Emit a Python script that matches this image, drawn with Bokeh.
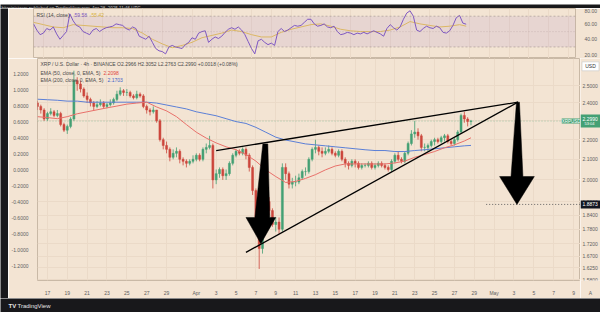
from bokeh.plotting import figure
from bokeh.layouts import column, row
from bokeh.models import (Range1d, LinearAxis, LinearScale, FixedTicker, NumeralTickFormatter,
                          Label, BoxAnnotation, Span)
from bokeh.core.properties import value
from bokeh.embed import file_html
from bokeh.resources import INLINE

# ---------------- data ----------------
# time axis: day number counted from 1 March (32 = 1 April, 62 = 1 May); 8-hour candles
DAY_INDEX = list(range(16, 60))
SESSIONS = [0.0, 1 / 3, 2 / 3]
CANDLE_T = [d + s for d in DAY_INDEX for s in SESSIONS]

FIRST_OPEN = 2.40
CLOSE = [2.38, 2.36, 2.31, 2.34, 2.35, 2.33, 2.34, 2.28, 2.25, 2.27, 2.31, 2.53,
         2.51, 2.48, 2.44, 2.42, 2.40, 2.38, 2.39, 2.40, 2.38, 2.39, 2.40, 2.42,
         2.45, 2.47, 2.46, 2.46, 2.44, 2.43, 2.45, 2.44, 2.38, 2.36, 2.35, 2.36,
         2.30, 2.20, 2.17, 2.15, 2.11, 2.13, 2.14, 2.10, 2.09, 2.08, 2.09, 2.10,
         2.12, 2.10, 2.15, 2.16, 2.17, 2.00, 2.03, 2.05, 2.02, 2.03, 2.08, 2.12,
         2.14, 2.13, 2.15, 2.12, 2.06, 1.95, 1.80, 1.70, 1.88, 1.90, 1.86, 1.80,
         1.81, 1.78, 2.06, 2.03, 1.98, 1.99, 1.99, 2.01, 2.04, 2.04, 2.10, 2.15,
         2.16, 2.14, 2.13, 2.14, 2.15, 2.13, 2.12, 2.14, 2.10, 2.08, 2.07, 2.09,
         2.08, 2.06, 2.07, 2.07, 2.08, 2.06, 2.07, 2.08, 2.07, 2.06, 2.05, 2.09,
         2.12, 2.10, 2.09, 2.13, 2.18, 2.23, 2.24, 2.22, 2.16, 2.16, 2.17, 2.19,
         2.20, 2.19, 2.21, 2.22, 2.19, 2.18, 2.20, 2.24, 2.33, 2.31, 2.2966, 2.2990]
HIGH = [2.41, 2.39, 2.37, 2.35, 2.37, 2.36, 2.36, 2.35, 2.29, 2.28, 2.32, 2.59,
        2.55, 2.53, 2.49, 2.46, 2.43, 2.41, 2.41, 2.42, 2.41, 2.40, 2.42, 2.43,
        2.47, 2.49, 2.48, 2.48, 2.47, 2.45, 2.47, 2.46, 2.45, 2.39, 2.37, 2.38,
        2.36, 2.31, 2.21, 2.19, 2.16, 2.15, 2.16, 2.15, 2.11, 2.10, 2.10, 2.12,
        2.13, 2.13, 2.16, 2.18, 2.22, 2.18, 2.05, 2.06, 2.06, 2.05, 2.09, 2.13,
        2.15, 2.15, 2.16, 2.16, 2.13, 2.07, 1.96, 1.82, 1.90, 1.94, 1.92, 1.87,
        1.83, 1.83, 2.08, 2.08, 2.04, 2.01, 2.02, 2.03, 2.05, 2.06, 2.11, 2.16,
        2.20, 2.17, 2.16, 2.16, 2.17, 2.16, 2.14, 2.15, 2.15, 2.11, 2.09, 2.10,
        2.10, 2.09, 2.08, 2.08, 2.09, 2.09, 2.08, 2.09, 2.09, 2.08, 2.07, 2.10,
        2.13, 2.14, 2.11, 2.14, 2.19, 2.25, 2.30, 2.26, 2.23, 2.18, 2.18, 2.20,
        2.21, 2.21, 2.22, 2.23, 2.23, 2.20, 2.21, 2.25, 2.34, 2.35, 2.32, 2.3052]
LOW = [2.36, 2.34, 2.30, 2.30, 2.33, 2.32, 2.32, 2.27, 2.24, 2.23, 2.26, 2.30,
       2.47, 2.46, 2.43, 2.40, 2.38, 2.36, 2.37, 2.38, 2.37, 2.37, 2.38, 2.39,
       2.41, 2.44, 2.44, 2.44, 2.43, 2.42, 2.42, 2.43, 2.37, 2.34, 2.33, 2.34,
       2.29, 2.19, 2.15, 2.13, 2.09, 2.10, 2.11, 2.08, 2.07, 2.06, 2.07, 2.08,
       2.09, 2.09, 2.09, 2.13, 2.15, 1.96, 1.98, 2.01, 2.00, 2.00, 2.02, 2.07,
       2.11, 2.12, 2.12, 2.10, 2.04, 1.93, 1.76, 1.62, 1.68, 1.86, 1.84, 1.79,
       1.77, 1.76, 1.77, 2.00, 1.96, 1.96, 1.97, 1.98, 2.00, 2.02, 2.03, 2.09,
       2.13, 2.12, 2.11, 2.12, 2.13, 2.12, 2.11, 2.11, 2.09, 2.06, 2.05, 2.06,
       2.06, 2.05, 2.05, 2.06, 2.06, 2.05, 2.05, 2.06, 2.06, 2.05, 2.04, 2.04,
       2.08, 2.09, 2.08, 2.08, 2.12, 2.17, 2.21, 2.20, 2.14, 2.14, 2.14, 2.16,
       2.17, 2.18, 2.18, 2.19, 2.18, 2.17, 2.17, 2.19, 2.23, 2.29, 2.27, 2.2763]

RSI = [60, 52, 46, 48, 54, 52, 56, 47, 40, 45, 50, 73,
       64, 58, 56, 50, 48, 46, 52, 54, 50, 53, 55, 56,
       57, 60, 59, 58, 54, 52, 56, 54, 44, 42, 40, 44,
       36, 28, 25, 24, 21, 30, 32, 30, 29, 28, 33, 36,
       42, 40, 48, 50, 51, 36, 40, 43, 41, 44, 49, 53,
       55, 53, 56, 52, 46, 37, 28, 21, 38, 40, 36, 33,
       35, 32, 50, 54, 50, 52, 55, 58, 57, 58, 62, 66,
       66, 60, 57, 58, 60, 56, 55, 57, 50, 46, 47, 49,
       48, 46, 48, 47, 49, 47, 49, 51, 49, 47, 44, 54,
       59, 55, 52, 56, 66, 74, 77, 70, 52, 50, 54, 57,
       55, 54, 57, 55, 49, 48, 51, 58, 68, 71, 61, 59.58]
RSI_MA_T = list(range(16, 60)) + [59.67]
RSI_MA = [62, 59, 56, 55, 59, 58, 57, 56, 55, 55, 54, 48, 40, 34, 29, 32, 36, 42, 45,
          48, 52, 50, 46, 43, 43, 49, 53, 56, 59, 60, 57, 53, 51, 50, 50, 50, 52, 56,
          63, 60, 58, 56, 57, 59, 57]

EMA_T = list(range(16, 60)) + [59.67]
EMA50 = [2.323, 2.318, 2.312, 2.323, 2.339, 2.350, 2.361, 2.372, 2.382, 2.393, 2.399,
         2.404, 2.377, 2.355, 2.323, 2.280, 2.239, 2.208, 2.183, 2.163, 2.148, 2.124,
         2.091, 2.048, 2.016, 1.988, 1.993, 2.007, 2.025, 2.048, 2.067, 2.077, 2.077,
         2.077, 2.077, 2.077, 2.082, 2.091, 2.110, 2.124, 2.139, 2.158, 2.173, 2.193,
         2.2098]
EMA200 = [2.421, 2.418, 2.415, 2.410, 2.410, 2.404, 2.404, 2.404, 2.404, 2.404, 2.404,
          2.404, 2.399, 2.388, 2.377, 2.366, 2.350, 2.339, 2.328, 2.312, 2.296, 2.286,
          2.265, 2.239, 2.213, 2.198, 2.188, 2.178, 2.173, 2.168, 2.163, 2.158, 2.153,
          2.148, 2.144, 2.144, 2.139, 2.139, 2.144, 2.148, 2.153, 2.158, 2.163, 2.168,
          2.1703]

# drawn annotations (rising wedge and projection arrows)
UPPER_T = [34.0, 64.4]
UPPER_P = [2.144, 2.404]
LOWER_T = [37.0, 64.4]
LOWER_P = [1.685, 2.404]
ARROW1_T = [38.7, 39.2, 39.4, 40.0, 38.5, 37.0, 37.9]
ARROW1_P = [2.178, 2.178, 1.830, 1.830, 1.720, 1.830, 1.830]
ARROW2_T = [64.25, 64.55, 64.9, 66.05, 64.3, 62.55, 63.7]
ARROW2_P = [2.404, 2.404, 2.016, 2.016, 1.8873, 2.016, 2.016]
TARGET_T = [61.2, 70.7]
TARGET_PRICE = 1.8873
LAST_PRICE = 2.2990

X_TICKS = [17, 19, 21, 23, 25, 27, 29, 32, 34, 36, 38, 40, 42, 44, 46, 48, 50, 52, 54,
           56, 58, 60, 62, 64, 66, 68, 70]
X_LABELS = ["17", "19", "21", "23", "25", "27", "29", "Apr", "3", "5", "7", "9", "11",
            "13", "15", "17", "19", "21", "23", "25", "27", "29", "May", "3", "5", "7", "9"]
RIGHT_TICKS = [2.5, 2.4, 2.3, 2.2, 2.1, 2.0, 1.9, 1.84, 1.78, 1.72, 1.67, 1.625, 1.58]
LEFT_TICKS = [1.2, 1.0, 0.8, 0.6, 0.4, 0.2, 0.0, -0.2, -0.4, -0.6, -0.8, -1.0, -1.2]
RSI_TICKS = [20, 40, 60, 80]

# ---------------- style ----------------
BG = "#f3e4d3"
DARK = "#18181b"
EDGE = "#c9b9a6"
GRID = "#ebdac8"
TXT = "#4a4a4a"
AX = "#5e5e5e"
UP = "#44a074"
DOWN = "#cc463c"
FONT = "Liberation Sans"
FS = "5px"
USD_TAG_PRICE = 2.617   # vertical position of the currency tag in the price scale

xr = Range1d(16.0, 70.7)
yr = Range1d(1.5763, 2.6659)


def bar_fig(w, h, color):
    f = figure(width=w, height=h, x_range=Range1d(0, w), y_range=Range1d(0, h),
               x_axis_location=None, y_axis_location=None, toolbar_location=None,
               output_backend="svg", min_border=0, background_fill_color=color,
               border_fill_color=color, outline_line_color=None)
    f.grid.visible = False
    return f


def style_axis(ax):
    ax.axis_line_color = None
    ax.major_tick_line_color = None
    ax.minor_tick_line_color = None
    ax.major_label_text_font = FONT
    ax.major_label_text_font_size = FS
    ax.major_label_text_color = AX
    ax.major_label_standoff = 3


top_bar = bar_fig(600, 8, DARK)
top_bar.add_layout(Label(x=1, y=4, text="bitcoinistcom published on TradingView.com, Apr 28, 2025 11:46 UTC",
                         text_font=FONT, text_font_size="4.5px", text_color="#bdbdbd",
                         text_baseline="middle"))
left_strip = bar_fig(8, 290, DARK)
bottom_bar = bar_fig(600, 14, DARK)
bottom_bar.add_layout(Label(x=8, y=7, text="TV", text_font=FONT, text_font_size="6px",
                            text_font_style="bold", text_color="#e6e6e6", text_baseline="middle"))
bottom_bar.add_layout(Label(x=17, y=7, text="TradingView", text_font=FONT, text_font_size="6px",
                            text_color="#e6e6e6", text_baseline="middle"))
bottom_white = bar_fig(600, 5, "#ffffff")

# ---------------- RSI pane ----------------
r = figure(width=592, height=50, x_range=xr, y_range=Range1d(15, 80),
           x_axis_location=None, y_axis_location="right", toolbar_location=None,
           output_backend="svg", min_border_left=25, min_border_right=20,
           min_border_top=0, min_border_bottom=0, background_fill_color=BG,
           border_fill_color=BG, outline_line_color=EDGE)
r.add_layout(BoxAnnotation(bottom=30, top=70, fill_color="#7e57c2", fill_alpha=0.1, line_color=None))
for lvl, dash, a in [(70, "2 2", 0.8), (50, "1 2", 0.5), (30, "2 2", 0.8)]:
    r.add_layout(Span(location=lvl, dimension="width", line_color="#9a8c86",
                      line_dash=dash, line_width=0.7, line_alpha=a))
r.line(RSI_MA_T, RSI_MA, line_color="#e6c25a", line_width=1)
r.line(CANDLE_T, RSI, line_color="#7e57c2", line_width=1)
r.yaxis.ticker = FixedTicker(ticks=RSI_TICKS)
r.yaxis.formatter = NumeralTickFormatter(format="0.00")
r.xgrid.ticker = FixedTicker(ticks=X_TICKS)
r.xgrid.grid_line_color = GRID
r.ygrid.grid_line_color = None
for ax in r.axis:
    style_axis(ax)
r.add_layout(Label(x=3, y=44, x_units="screen", y_units="screen", text="RSI (14, close)",
                   text_font=FONT, text_font_size=FS, text_color=TXT, text_baseline="middle"))
r.add_layout(Label(x=41, y=44, x_units="screen", y_units="screen", text="59.58",
                   text_font=FONT, text_font_size=FS, text_color="#7e57c2", text_baseline="middle"))
r.add_layout(Label(x=58, y=44, x_units="screen", y_units="screen", text="55.42",
                   text_font=FONT, text_font_size=FS, text_color="#d9b240", text_baseline="middle"))

# ---------------- price pane ----------------
p = figure(width=572, height=240, x_range=xr, y_range=yr,
           y_axis_type="log", y_axis_location=None, x_axis_location="below",
           toolbar_location=None, output_backend="svg", min_border_left=25,
           min_border_right=0, min_border_top=0, min_border_bottom=11,
           background_fill_color=BG, border_fill_color=BG, outline_line_color=EDGE)
p.extra_y_ranges = {"left": Range1d(-1.3818, 1.3939)}
p.extra_y_scales = {"left": LinearScale()}
left_axis = LinearAxis(y_range_name="left", ticker=FixedTicker(ticks=LEFT_TICKS),
                       formatter=NumeralTickFormatter(format="0.0000"))
p.add_layout(left_axis, "left")
p.xaxis.ticker = FixedTicker(ticks=X_TICKS)
p.xaxis.major_label_overrides = {t: lab for t, lab in zip(X_TICKS, X_LABELS)}
p.xgrid.ticker = FixedTicker(ticks=X_TICKS)
p.ygrid.ticker = FixedTicker(ticks=RIGHT_TICKS)
p.grid.grid_line_color = GRID
for ax in p.axis:
    style_axis(ax)

opens = [FIRST_OPEN] + CLOSE[:-1]
colors = [UP if c >= o else DOWN for o, c in zip(opens, CLOSE)]
body_lo = [min(o, c) for o, c in zip(opens, CLOSE)]
body_hi = [max(o, c) for o, c in zip(opens, CLOSE)]

p.line(TARGET_T, [TARGET_PRICE, TARGET_PRICE], line_color="#555555", line_dash="1 2", line_width=0.9)
p.line([xr.start, xr.end], [LAST_PRICE, LAST_PRICE], line_color=UP, line_dash="1 2",
       line_width=0.8, line_alpha=0.6)
p.segment(x0=CANDLE_T, y0=LOW, x1=CANDLE_T, y1=HIGH, line_color=colors, line_width=0.8)
p.vbar(x=CANDLE_T, width=0.2, bottom=body_lo, top=body_hi, fill_color=colors,
       line_color=colors, line_width=0.5)
p.line(EMA_T, EMA200, line_color="#5b7fd6", line_width=1)
p.line(EMA_T, EMA50, line_color="#e8706a", line_width=1)
p.line(UPPER_T, UPPER_P, line_color="black", line_width=1.3)
p.line(LOWER_T, LOWER_P, line_color="black", line_width=1.3)
p.patch(ARROW1_T, ARROW1_P, fill_color="black", line_color="black", line_width=0.5)
p.patch(ARROW2_T, ARROW2_P, fill_color="black", line_color="black", line_width=0.5)

# legend text
p.add_layout(Label(x=3, y=217, x_units="screen", y_units="screen",
                   text="XRP / U.S. Dollar \u00b7 4h \u00b7 BINANCE   O2.2966  H2.3052  L2.2763  C2.2990  +0.0018 (+0.08%)",
                   text_font=FONT, text_font_size=FS, text_color=TXT, text_baseline="middle"))
p.add_layout(Label(x=3, y=208, x_units="screen", y_units="screen", text="EMA (50, close, 0, EMA, 5)",
                   text_font=FONT, text_font_size=FS, text_color=TXT, text_baseline="middle"))
p.add_layout(Label(x=66, y=208, x_units="screen", y_units="screen", text="2.2098",
                   text_font=FONT, text_font_size=FS, text_color="#e0463c", text_baseline="middle"))
p.add_layout(Label(x=3, y=201, x_units="screen", y_units="screen", text="EMA (200, close, 0, EMA, 5)",
                   text_font=FONT, text_font_size=FS, text_color=TXT, text_baseline="middle"))
p.add_layout(Label(x=70, y=201, x_units="screen", y_units="screen", text="2.1703",
                   text_font=FONT, text_font_size=FS, text_color="#3f63c9", text_baseline="middle"))
p.add_layout(Label(x=543, y=LAST_PRICE, x_units="screen", y_units="data", text="XRPUSD",
                   text_font=FONT, text_font_size="4.5px", text_color="white", text_align="right",
                   text_baseline="middle", background_fill_color=UP, background_fill_alpha=1.0))

# ---------------- price scale (right) ----------------
s = figure(width=20, height=240, x_range=Range1d(0, 20), y_range=yr, y_axis_type="log",
           y_axis_location=None, x_axis_location="below", toolbar_location=None,
           output_backend="svg", min_border_left=0, min_border_right=0, min_border_top=0,
           min_border_bottom=11, background_fill_color=BG, border_fill_color=BG,
           outline_line_color=None)
s.grid.visible = False
s.xaxis.ticker = FixedTicker(ticks=[10])
s.xaxis.major_label_overrides = {10: "A"}
style_axis(s.xaxis[0])
s.text(x=[2] * len(RIGHT_TICKS), y=RIGHT_TICKS, text=[f"{v:.4f}" for v in RIGHT_TICKS],
       text_font=value(FONT), text_font_size=FS, text_color=AX, text_baseline="middle")
# currency tag
s.rect(x=[10], y=[USD_TAG_PRICE], width=17, height=9, height_units="screen",
       fill_color="white", line_color="#cfcfcf", line_width=0.7)
s.text(x=[10], y=[USD_TAG_PRICE], text=["USD"], text_font=value(FONT), text_font_size=FS,
       text_color="#333333", text_align="center", text_baseline="middle")
# last price tag
s.rect(x=[10], y=[LAST_PRICE], width=20, height=13, height_units="screen",
       fill_color=UP, line_color=None)
s.text(x=[2], y=[LAST_PRICE], text=["2.2990"], text_font=value(FONT), text_font_size=FS,
       text_color="white", text_baseline="bottom")
s.text(x=[4], y=[LAST_PRICE], text=["53:04"], text_font=value(FONT), text_font_size="4px",
       text_color="white", text_baseline="top")
# target price tag
s.rect(x=[10], y=[TARGET_PRICE], width=20, height=8, height_units="screen",
       fill_color="#131722", line_color=None)
s.text(x=[2], y=[TARGET_PRICE], text=["1.8873"], text_font=value(FONT), text_font_size=FS,
       text_color="white", text_baseline="middle")

layout = column(top_bar, row(left_strip, column(r, row(p, s))), bottom_bar, bottom_white)
open("out.html", "w").write(file_html(layout, INLINE))
